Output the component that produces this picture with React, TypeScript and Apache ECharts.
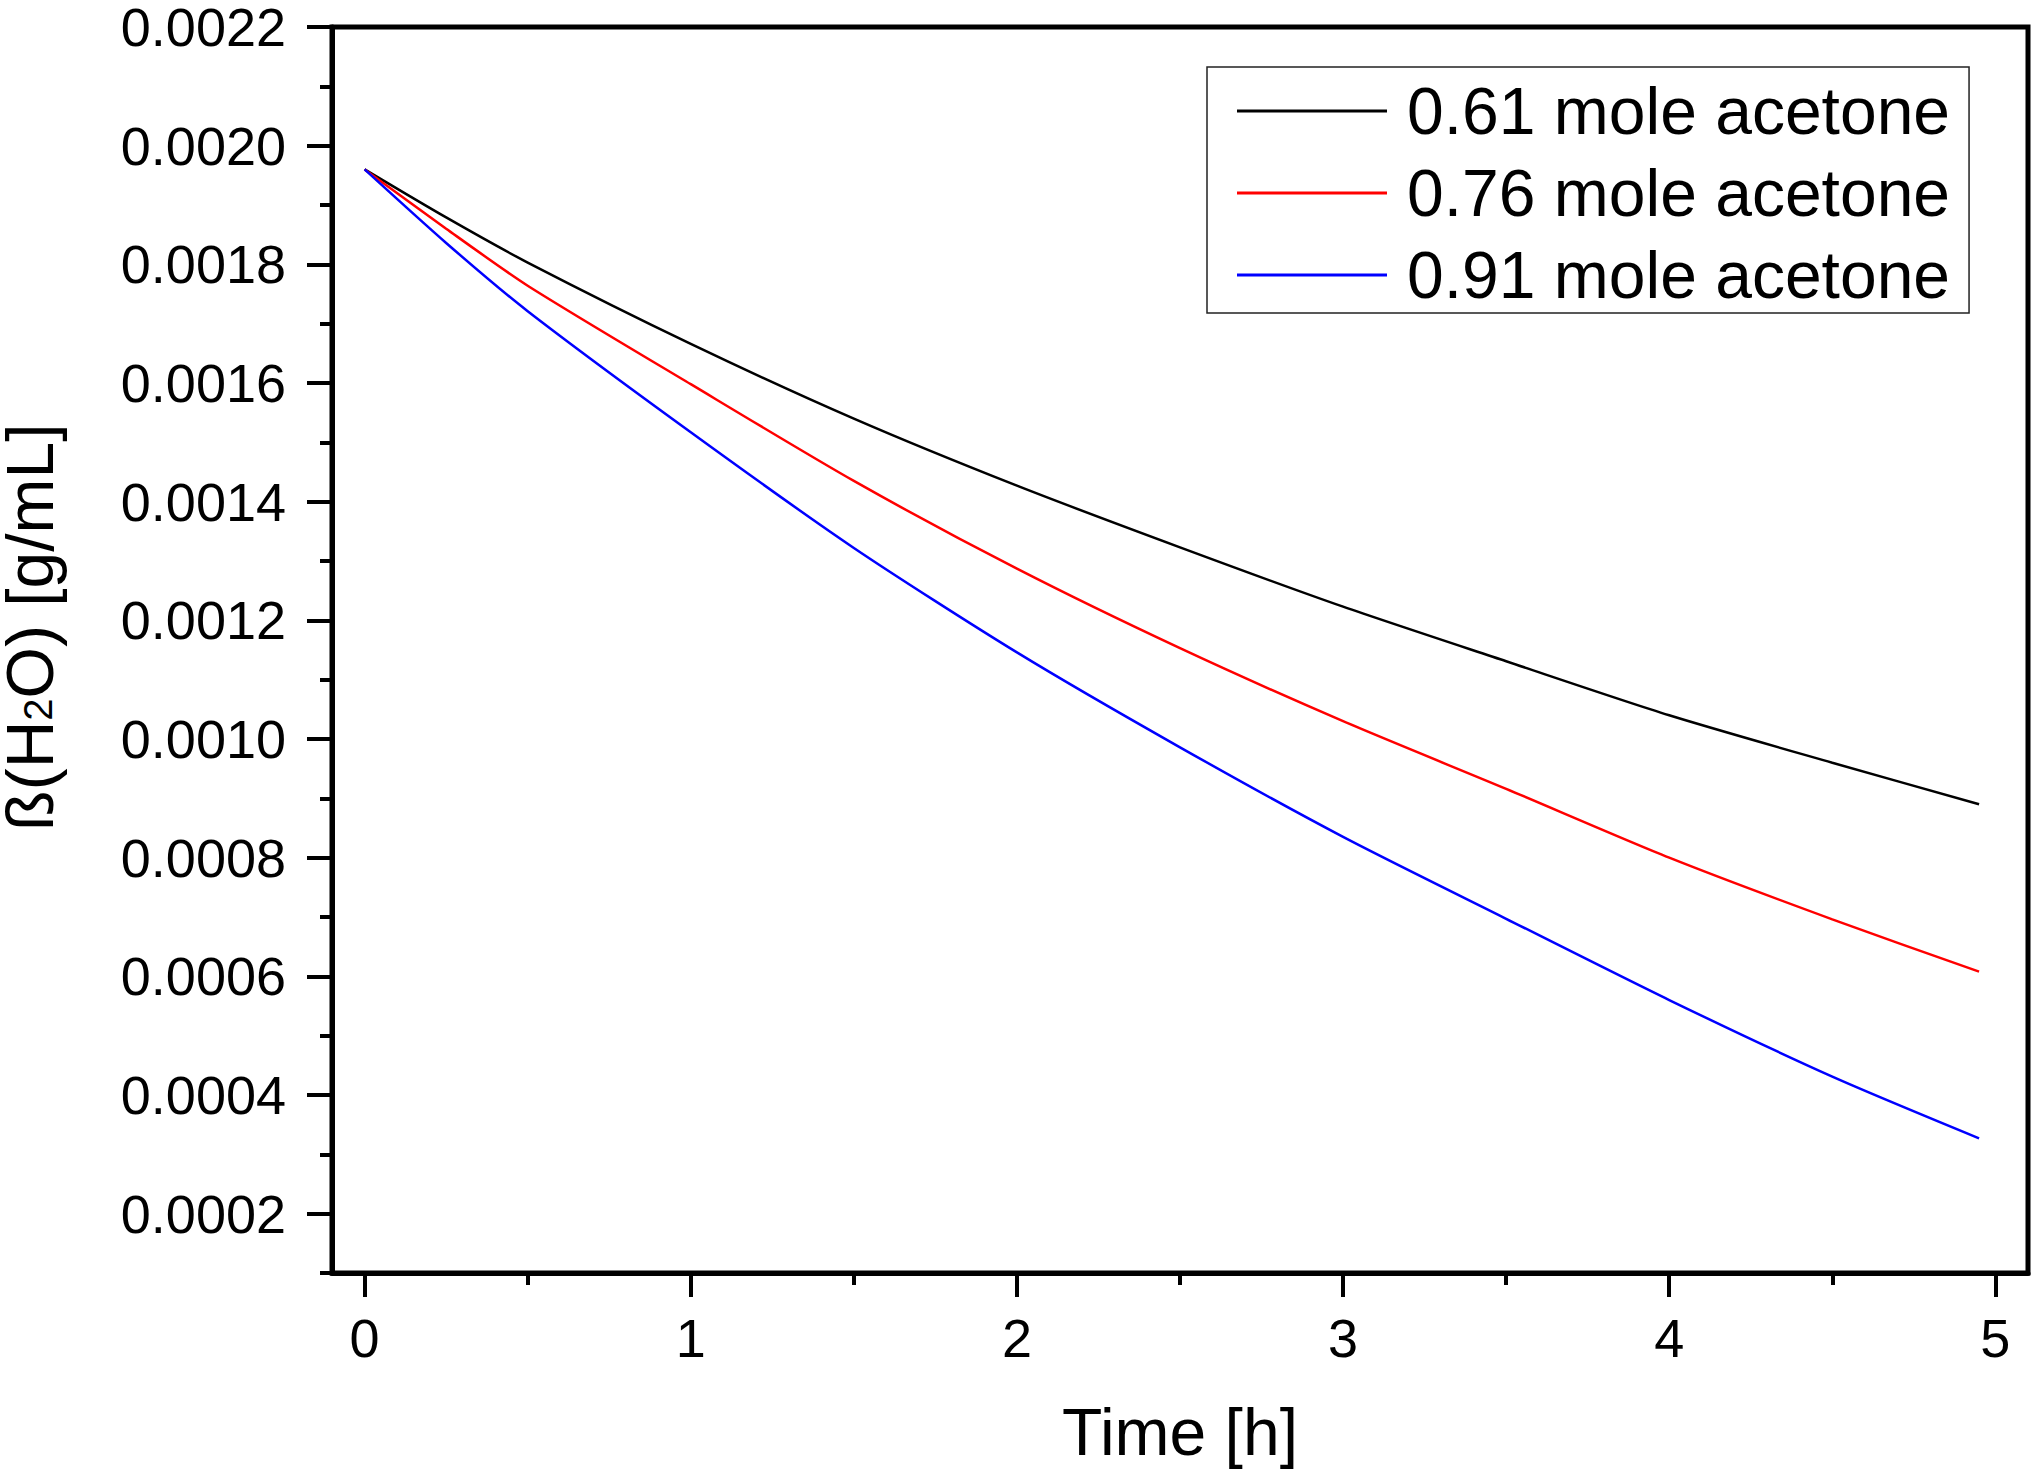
import React, { useEffect, useRef } from "react";
import * as echarts from "echarts";

const FONT = "'Liberation Sans', Arial, Helvetica, sans-serif";

const TIME_H = [0, 0.25, 0.5, 1, 1.5, 2, 2.5, 3, 3.5, 4, 4.5, 4.95];
const ACETONE_061 = [0.00196, 0.001879, 0.001803, 0.001666, 0.00154, 0.001427, 0.001323, 0.001223, 0.001131, 0.00104, 0.00096, 0.00089];
const ACETONE_076 = [0.00196, 0.00186, 0.001764, 0.001598, 0.001435, 0.001287, 0.001153, 0.00103, 0.000916, 0.0008, 0.000696, 0.000608];
const ACETONE_091 = [0.00196, 0.001836, 0.001721, 0.001517, 0.001322, 0.001146, 0.000986, 0.000835, 0.000697, 0.00056, 0.000431, 0.000327];

const SERIES_NAMES = ["0.61 mole acetone", "0.76 mole acetone", "0.91 mole acetone"];
const SERIES_COLORS = ["#000000", "#ff0000", "#0000ff"];

const X_MAJOR = [0, 1, 2, 3, 4, 5];
const X_MINOR = [0.5, 1.5, 2.5, 3.5, 4.5];
const Y_MAJOR = [0.0002, 0.0004, 0.0006, 0.0008, 0.001, 0.0012, 0.0014, 0.0016, 0.0018, 0.002, 0.0022];
const Y_MINOR = [0.0001, 0.0003, 0.0005, 0.0007, 0.0009, 0.0011, 0.0013, 0.0015, 0.0017, 0.0019, 0.0021];

const X_MIN = -0.1;
const X_MAX = 5.1;
const Y_MIN = 0.0001;
const Y_MAX = 0.0022;

export default function App() {
  const ref = useRef<HTMLDivElement>(null);

  useEffect(() => {
    if (!ref.current) return;
    const chart = echarts.init(ref.current, null, { renderer: "svg" });
    const seriesValues = [ACETONE_061, ACETONE_076, ACETONE_091];

    const axisLineStyle = { color: "#000", width: 5 };

    chart.setOption({
      animation: false,
      backgroundColor: "#fff",
      grid: {
        left: 332,
        top: 27,
        width: 1696,
        height: 1246,
        show: true,
        borderColor: "#000",
        borderWidth: 5,
        backgroundColor: "transparent",
      },
      xAxis: [
        {
          type: "value",
          min: X_MIN,
          max: X_MAX,
          position: "bottom",
          axisLine: { show: true, onZero: false, lineStyle: axisLineStyle },
          axisTick: { show: true, inside: false, length: 24, lineStyle: { color: "#000", width: 4 }, customValues: X_MAJOR },
          axisLabel: {
            show: true,
            customValues: X_MAJOR,
            margin: 38,
            fontSize: 54,
            fontFamily: FONT,
            color: "#000",
            formatter: (v: number) => String(v),
          },
          splitLine: { show: false },
          name: "Time [h]",
          nameLocation: "middle",
          nameGap: 126,
          nameTextStyle: { fontSize: 66, fontFamily: FONT, color: "#000" },
        },
        {
          type: "value",
          min: X_MIN,
          max: X_MAX,
          position: "bottom",
          axisLine: { show: false, onZero: false },
          axisTick: { show: true, inside: false, length: 12, lineStyle: { color: "#000", width: 4 }, customValues: X_MINOR },
          axisLabel: { show: false },
          splitLine: { show: false },
        },
      ],
      yAxis: [
        {
          type: "value",
          min: Y_MIN,
          max: Y_MAX,
          position: "left",
          axisLine: { show: true, onZero: false, lineStyle: axisLineStyle },
          axisTick: { show: true, inside: false, length: 25, lineStyle: { color: "#000", width: 4 }, customValues: Y_MAJOR },
          axisLabel: {
            show: true,
            customValues: Y_MAJOR,
            margin: 46,
            fontSize: 54,
            fontFamily: FONT,
            color: "#000",
            formatter: (v: number) => v.toFixed(4),
          },
          splitLine: { show: false },
        },
        {
          type: "value",
          min: Y_MIN,
          max: Y_MAX,
          position: "left",
          axisLine: { show: false, onZero: false },
          axisTick: { show: true, inside: false, length: 12, lineStyle: { color: "#000", width: 4 }, customValues: Y_MINOR },
          axisLabel: { show: false },
          splitLine: { show: false },
        },
      ],
      legend: {
        show: true,
        orient: "vertical",
        left: 1207,
        top: 67,
        padding: [9, 19, 3, 30],
        itemGap: 12,
        itemWidth: 150,
        itemHeight: 3,
        icon: "rect",
        backgroundColor: "#fff",
        borderColor: "#222",
        borderWidth: 1.5,
        borderRadius: 0,
        data: SERIES_NAMES,
        formatter: "{t|{name}}",
        textStyle: {
          fontSize: 66,
          lineHeight: 70,
          fontFamily: FONT,
          color: "#000",
          rich: {
            t: { fontSize: 66, lineHeight: 70, fontFamily: FONT, color: "#000", padding: [0, 0, 0, 15] },
          },
        },
      },
      graphic: [
        {
          type: "text",
          x: 30,
          y: 627,
          rotation: Math.PI / 2,
          style: {
            text: "{a|ß(H}{s|2}{a|O) [g/mL]}",
            align: "center",
            verticalAlign: "middle",
            fill: "#000",
            rich: {
              a: { fontSize: 66, lineHeight: 56, fontFamily: FONT, fill: "#000", color: "#000" },
              s: { fontSize: 40, lineHeight: 8, fontFamily: FONT, fill: "#000", color: "#000", verticalAlign: "bottom" },
            },
          },
        },
      ],
      series: SERIES_NAMES.map((name, i) => ({
        name,
        type: "line",
        xAxisIndex: 0,
        yAxisIndex: 0,
        symbol: "none",
        smooth: 0.25,
        lineStyle: { color: SERIES_COLORS[i], width: 2.5 },
        itemStyle: { color: SERIES_COLORS[i] },
        data: TIME_H.map((t, k) => [t, seriesValues[i][k]]),
      })),
    });

    return () => {
      chart.dispose();
    };
  }, []);

  return (
    <div
      ref={ref}
      style={{ position: "absolute", left: 0, top: 0, width: "2033px", height: "1478px", background: "#fff" }}
    />
  );
}
